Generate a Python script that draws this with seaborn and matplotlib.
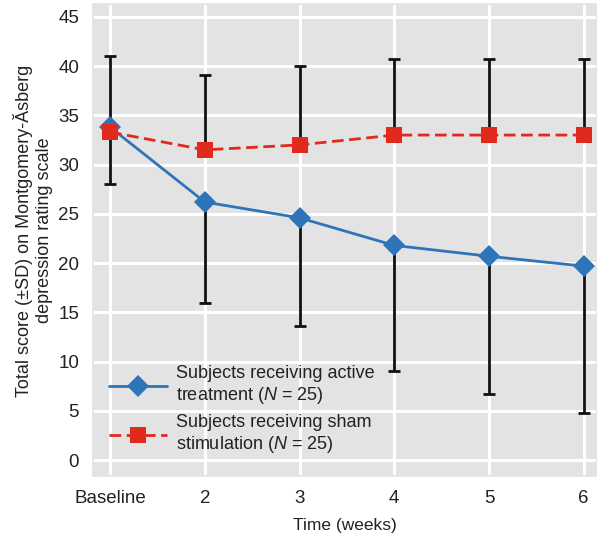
import numpy as np
import pandas as pd
import matplotlib
matplotlib.use("Agg")
import matplotlib.pyplot as plt
import seaborn as sns

# weeks and values
weeks = ["Baseline", "2", "3", "4", "5", "6"]
active_mean = [33.8, 26.2, 24.6, 21.8, 20.7, 19.7]
active_sd = [5.8, 10.2, 11.0, 12.7, 14.0, 14.9]   # drawn downward
sham_mean = [33.3, 31.5, 32.0, 33.0, 33.0, 33.0]
sham_sd = [7.7, 7.6, 8.0, 7.7, 7.7, 7.7]          # drawn upward

lab_active = "Subjects receiving active\ntreatment ($N$ = 25)"
lab_sham = "Subjects receiving sham\nstimulation ($N$ = 25)"

pos = np.arange(len(weeks))
df = pd.DataFrame({
    "pos": np.concatenate([pos, pos]),
    "score": active_mean + sham_mean,
    "group": [lab_active] * len(weeks) + [lab_sham] * len(weeks),
})

sns.set_theme(style="darkgrid", rc={
    "axes.facecolor": "#e3e3e3",
    "grid.color": "white",
    "grid.linewidth": 2.2,
    "axes.edgecolor": "#e3e3e3",
})
plt.rcParams["font.family"] = ["Liberation Sans", "DejaVu Sans"]
plt.rcParams["mathtext.fontset"] = "custom"
plt.rcParams["mathtext.it"] = "Liberation Sans:italic"
plt.rcParams["mathtext.rm"] = "Liberation Sans"

fig = plt.figure(figsize=(5.97, 5.35), dpi=100)
ax = fig.add_axes([0.1558, 0.1103, 0.8442, 0.8822])

blue = "#2e74b8"
red = "#df2a1d"

# error bars first so markers sit on top
zeros = np.zeros(len(weeks))
ax.errorbar(pos, sham_mean, yerr=[zeros, sham_sd], fmt="none", ecolor="#111111",
            elinewidth=2, capsize=4.5, capthick=2, zorder=2)
ax.errorbar(pos, active_mean, yerr=[active_sd, zeros], fmt="none", ecolor="#111111",
            elinewidth=2, capsize=4.5, capthick=2, zorder=2)

sns.lineplot(data=df, x="pos", y="score", hue="group", style="group",
             palette={lab_active: blue, lab_sham: red},
             markers={lab_active: "D", lab_sham: "s"},
             dashes={lab_active: "", lab_sham: (4.2, 2.0)},
             markersize=11, markeredgewidth=0, linewidth=2, ax=ax, zorder=3)

ax.set_xticks(pos)
ax.set_xticklabels(weeks)
ax.set_yticks(np.arange(0, 50, 5))
ax.set_xlim(-0.18, 5.14)
ax.set_ylim(-1.6, 46.3)
ax.tick_params(axis="both", labelsize=13.5, colors="#222222", pad=4)
ax.set_xlabel("Time (weeks)", fontsize=12.5, color="#222222", labelpad=8)
ax.set_ylabel("Total score (\u00b1SD) on Montgomery-\u0102sberg\ndepression rating scale",
              fontsize=13, color="#222222", labelpad=8)
ax.yaxis.set_label_coords(-0.08, 0.52)

leg = ax.legend(loc="lower left", bbox_to_anchor=(0.0, 0.01), frameon=False,
                fontsize=13, handlelength=3.2, handletextpad=0.5, labelspacing=0.45)
for t in leg.get_texts():
    t.set_color("#222222")

fig.savefig("out.png", dpi=100)
